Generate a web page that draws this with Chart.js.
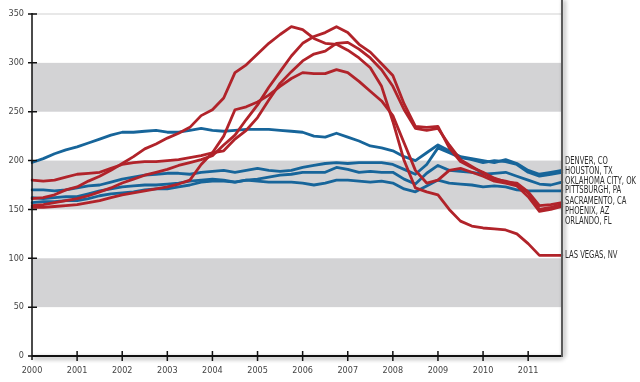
<!DOCTYPE html>
<html>
<head>
<meta charset="utf-8">
<script src="https://cdn.jsdelivr.net/npm/chart.js@4"></script>
<style>
  html, body { margin: 0; padding: 0; background: #fff; }
  #wrap { width: 640px; height: 382px; }
</style>
</head>
<body>
<div id="wrap"><canvas id="myChart" width="640" height="382"></canvas></div>
<script>
// home price index by metro area, quarterly 2000 - 2011
const years = [2000, 2001, 2002, 2003, 2004, 2005, 2006, 2007, 2008, 2009, 2010, 2011]
const quarters = []
years.forEach(y => { ['Q1', 'Q2', 'Q3', 'Q4'].forEach(q => quarters.push(y + ' ' + q)) })

const yTicks = [0, 50, 100, 150, 200, 250, 300, 350]
const bands = [[50, 100], [150, 200], [250, 300]]

const cities = ['DENVER, CO', 'HOUSTON, TX', 'OKLAHOMA CITY, OK', 'PITTSBURGH, PA',
    'SACRAMENTO, CA', 'PHOENIX, AZ', 'ORLANDO, FL', 'LAS VEGAS, NV']

const denver = [198, 202, 207, 211, 214, 218, 222, 226, 229, 229, 230, 231,
    229, 229, 231, 233, 231, 230, 231, 232, 232, 232, 231, 230,
    229, 225, 224, 228, 224, 220, 215, 213, 210, 204, 200, 208,
    216, 210, 204, 202, 200, 198, 201, 197, 190, 186, 188, 190]
const houston = [170, 170, 169, 170, 172, 174, 175, 178, 181, 183, 185, 186,
    187, 187, 186, 188, 189, 190, 188, 190, 192, 190, 189, 190,
    193, 195, 197, 198, 197, 198, 198, 198, 196, 191, 186, 196,
    213, 208, 203, 201, 198, 200, 199, 196, 188, 184, 186, 188]
const oklahomaCity = [162, 161, 162, 163, 163, 166, 169, 171, 173, 174, 175, 175,
    176, 177, 179, 180, 181, 180, 178, 180, 181, 183, 185, 186,
    188, 188, 188, 193, 191, 188, 189, 188, 188, 181, 176, 187,
    195, 190, 189, 188, 186, 187, 188, 184, 180, 176, 175, 178]
const pittsburgh = [157, 158, 158, 159, 159, 161, 164, 166, 167, 168, 170, 171,
    171, 173, 175, 178, 179, 179, 178, 180, 179, 178, 178, 178,
    177, 175, 177, 180, 180, 179, 178, 179, 177, 171, 168, 174,
    180, 177, 176, 175, 173, 174, 173, 170, 169, 169, 169, 169]
const sacramento = [154, 155, 157, 159, 161, 164, 168, 172, 177, 181, 185, 188,
    191, 195, 198, 201, 205, 216, 226, 242, 257, 275, 291, 307,
    320, 327, 331, 337, 331, 319, 311, 299, 287, 258, 235, 234,
    235, 213, 199, 193, 188, 182, 178, 177, 168, 154, 155, 157]
const phoenix = [180, 179, 180, 183, 186, 187, 188, 192, 196, 198, 199, 199,
    200, 201, 203, 205, 208, 210, 222, 231, 244, 262, 279, 291,
    302, 309, 312, 320, 321, 314, 305, 293, 276, 252, 233, 231,
    233, 216, 201, 194, 187, 181, 179, 176, 167, 150, 152, 155]
const orlando = [152, 152, 153, 154, 155, 157, 159, 162, 165, 167, 169, 171,
    173, 176, 180, 196, 208, 225, 252, 255, 260, 267, 276, 284,
    290, 289, 289, 293, 290, 281, 271, 261, 246, 218, 190, 177,
    180, 190, 192, 188, 184, 179, 177, 174, 163, 148, 150, 153]
const lasVegas = [161, 162, 165, 170, 173, 179, 184, 190, 197, 204, 212, 217,
    223, 228, 234, 246, 252, 264, 290, 298, 309, 320, 329, 337,
    334, 325, 320, 319, 313, 305, 295, 276, 240, 200, 172, 168,
    165, 150, 138, 133, 131, 130, 129, 125, 115, 103, 103, 103]

const RED = '#b1232a'
const BLUE = '#17659a'
const FONT = "'Liberation Sans Narrow', 'DejaVu Sans Condensed', sans-serif"
// pixel rows of the city names at the right edge
const labelY = [161, 171, 181.5, 190.5, 201, 211, 221, 255]

const decor = {
    id: 'decor',
    beforeDatasetsDraw(chart) {
        const { ctx, chartArea: a, scales: { y } } = chart
        ctx.save()
        ctx.fillStyle = '#d3d3d5'
        bands.forEach(b => {
            const top = y.getPixelForValue(b[1])
            ctx.fillRect(a.left, top, a.right - a.left, y.getPixelForValue(b[0]) - top)
        })
        ctx.strokeStyle = '#e8e8e8'
        ctx.lineWidth = 2
        ctx.beginPath()
        ctx.moveTo(a.left, y.getPixelForValue(350))
        ctx.lineTo(a.right, y.getPixelForValue(350))
        ctx.stroke()
        ctx.restore()
    },
    afterDatasetsDraw(chart) {
        const { ctx, chartArea: a, scales: { x, y } } = chart
        ctx.save()
        // bottom axis with shadow
        ctx.shadowColor = 'rgba(0,0,0,0.45)'
        ctx.shadowBlur = 4
        ctx.shadowOffsetX = 1
        ctx.shadowOffsetY = 2
        ctx.strokeStyle = '#111'
        ctx.lineWidth = 2
        ctx.beginPath()
        ctx.moveTo(a.left, a.bottom)
        ctx.lineTo(a.right, a.bottom)
        ctx.stroke()
        // right border
        ctx.shadowOffsetX = 2
        ctx.shadowOffsetY = 0
        ctx.strokeStyle = '#5a5a5a'
        ctx.beginPath()
        ctx.moveTo(a.right, 0)
        ctx.lineTo(a.right, a.bottom + 1)
        ctx.stroke()
        ctx.restore()

        ctx.save()
        ctx.strokeStyle = '#111'
        ctx.lineWidth = 1.5
        ctx.beginPath()
        ctx.moveTo(a.left, a.top - 1)
        ctx.lineTo(a.left, a.bottom + 4)
        yTicks.forEach(v => {
            const py = y.getPixelForValue(v)
            ctx.moveTo(a.left - 4, py)
            ctx.lineTo(a.left + 5, py)
        })
        years.forEach((yr, i) => {
            if (i === 0) return
            const px = x.getPixelForValue(i * 4)
            ctx.moveTo(px, a.bottom - 5)
            ctx.lineTo(px, a.bottom + 5)
        })
        ctx.stroke()

        // city names, squeezed to the narrow type of the original
        ctx.fillStyle = '#2b2b2b'
        ctx.font = '10px ' + FONT
        ctx.textBaseline = 'middle'
        ctx.textAlign = 'left'
        const squeeze = Math.min(1, 71 / ctx.measureText(cities[2]).width)
        ctx.scale(squeeze, 1)
        cities.forEach((c, i) => ctx.fillText(c, (a.right + 3) / squeeze, labelY[i]))
        ctx.restore()
    }
}

function line(data, color) {
    return { data: data, borderColor: color, borderWidth: 2.8, pointRadius: 0, tension: 0, fill: false }
}

new Chart('myChart', {
    type: 'line',
    data: {
        labels: quarters,
        datasets: [
            line(sacramento, RED),
            line(phoenix, RED),
            line(orlando, RED),
            line(lasVegas, RED),
            line(denver, BLUE),
            line(houston, BLUE),
            line(oklahomaCity, BLUE),
            line(pittsburgh, BLUE)
        ]
    },
    options: {
        responsive: false,
        animation: false,
        layout: { padding: { top: 14, right: 78, left: 0, bottom: 0 } },
        elements: { line: { borderJoinStyle: 'round', borderCapStyle: 'round' } },
        plugins: {
            legend: { display: false },
            tooltip: { enabled: false }
        },
        scales: {
            x: {
                offset: false,
                grid: { display: false, drawTicks: false },
                border: { display: false },
                ticks: {
                    autoSkip: false,
                    maxRotation: 0,
                    padding: 9,
                    color: '#444',
                    font: { family: FONT, size: 9 },
                    callback: (v, i) => i % 4 === 0 ? String(years[i / 4]) : ''
                },
                afterFit: s => { s.height = 26 }
            },
            y: {
                min: 0,
                max: 350,
                grid: { display: false, drawTicks: false },
                border: { display: false },
                ticks: {
                    stepSize: 50,
                    padding: 8,
                    color: '#444',
                    font: { family: FONT, size: 9 }
                },
                afterFit: s => { s.width = 32 }
            }
        }
    },
    plugins: [decor]
})
</script>
</body>
</html>
